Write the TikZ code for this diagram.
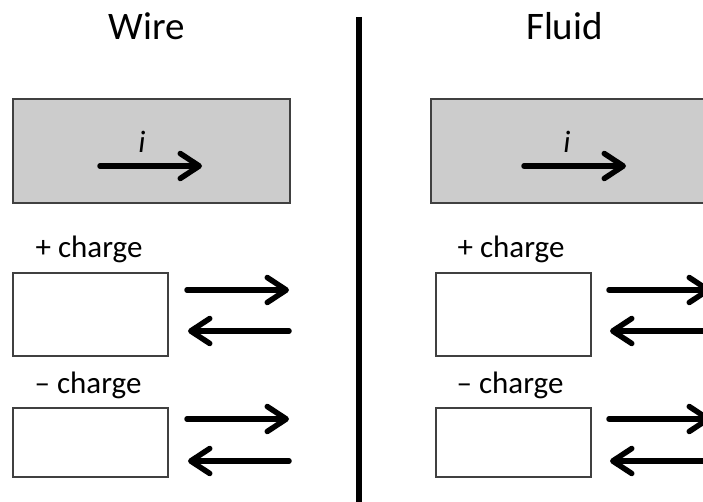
\documentclass[tikz,border=0pt]{standalone}
\usepackage{fontspec}
\setmainfont{Carlito}
\usetikzlibrary{arrows.meta}
\tikzset{
  titletext/.style={inner sep=0pt, anchor=base, font=\fontsize{39}{46}\selectfont},
  labeltext/.style={inner sep=0pt, anchor=base, font=\fontsize{31}{36}\selectfont},
  curtext/.style={inner sep=0pt, anchor=base, font=\fontsize{31}{36}\selectfont\itshape},
  bigbox/.style={draw=black!75, fill=black!20, line width=1.5pt, inner sep=0pt,
    minimum width=277pt, minimum height=104pt},
  smallbox/.style={draw=black!75, fill=white, line width=1.5pt, inner sep=0pt,
    minimum width=155pt, minimum height=83pt},
  smallbox2/.style={smallbox, minimum height=69pt},
  flow/.style={line width=5.5pt, line cap=round,
    -{Straight Barb[length=19pt,width=25pt,line cap=round,line join=round]}},
}
\begin{document}
\begin{tikzpicture}[x=1pt,y=-1pt]
\clip (0,0) rectangle (703,502);
\fill[white] (0,0) rectangle (703,502);
% titles
\node[titletext] (wt) at (147,40) {Wire};
\node[titletext] (ft) at (564.5,40) {Fluid};
% divider
\coordinate (dtop) at (359,17);
\coordinate (dbot) at (359,510);
\draw[line width=6pt] (dtop) -- (dbot);
% big boxes
\node[bigbox] (wbox) at (151.5,151) {};
\node[bigbox] (fbox) at (569.5,151) {};
\node[curtext] (wi) at (142,153) {i};
\node[curtext] (fi) at (567,153) {i};
\coordinate (wa1) at (100,166); \coordinate (wa2) at (202,166);
\coordinate (fa1) at (524,166); \coordinate (fa2) at (626,166);
\draw[flow] (wa1) -- (wa2);
\draw[flow] (fa1) -- (fa2);
% labels
\node[labeltext] (wp) at (89,258) {+ charge};
\node[labeltext] (wm) at (88,393) {\char"2013\ charge};
\node[labeltext] (fp) at (511,258) {+ charge};
\node[labeltext] (fm) at (510,393) {\char"2013\ charge};
% small boxes
\node[smallbox] (wpb) at (90.5,314.5) {};
\node[smallbox2] (wmb) at (90.5,442.5) {};
\node[smallbox] (fpb) at (513.5,314.5) {};
\node[smallbox2] (fmb) at (513.5,442.5) {};
% arrows
\foreach \dx/\s in {0/w,422/f}{
  \coordinate (\s r1a) at (187+\dx,290); \coordinate (\s r1b) at (289+\dx,290);
  \coordinate (\s l1a) at (289+\dx,331); \coordinate (\s l1b) at (188+\dx,331);
  \coordinate (\s r2a) at (187+\dx,419); \coordinate (\s r2b) at (289+\dx,419);
  \coordinate (\s l2a) at (289+\dx,461); \coordinate (\s l2b) at (188+\dx,461);
  \draw[flow] (\s r1a) -- (\s r1b);
  \draw[flow] (\s l1a) -- (\s l1b);
  \draw[flow] (\s r2a) -- (\s r2b);
  \draw[flow] (\s l2a) -- (\s l2b);
}
\end{tikzpicture}
\end{document}
